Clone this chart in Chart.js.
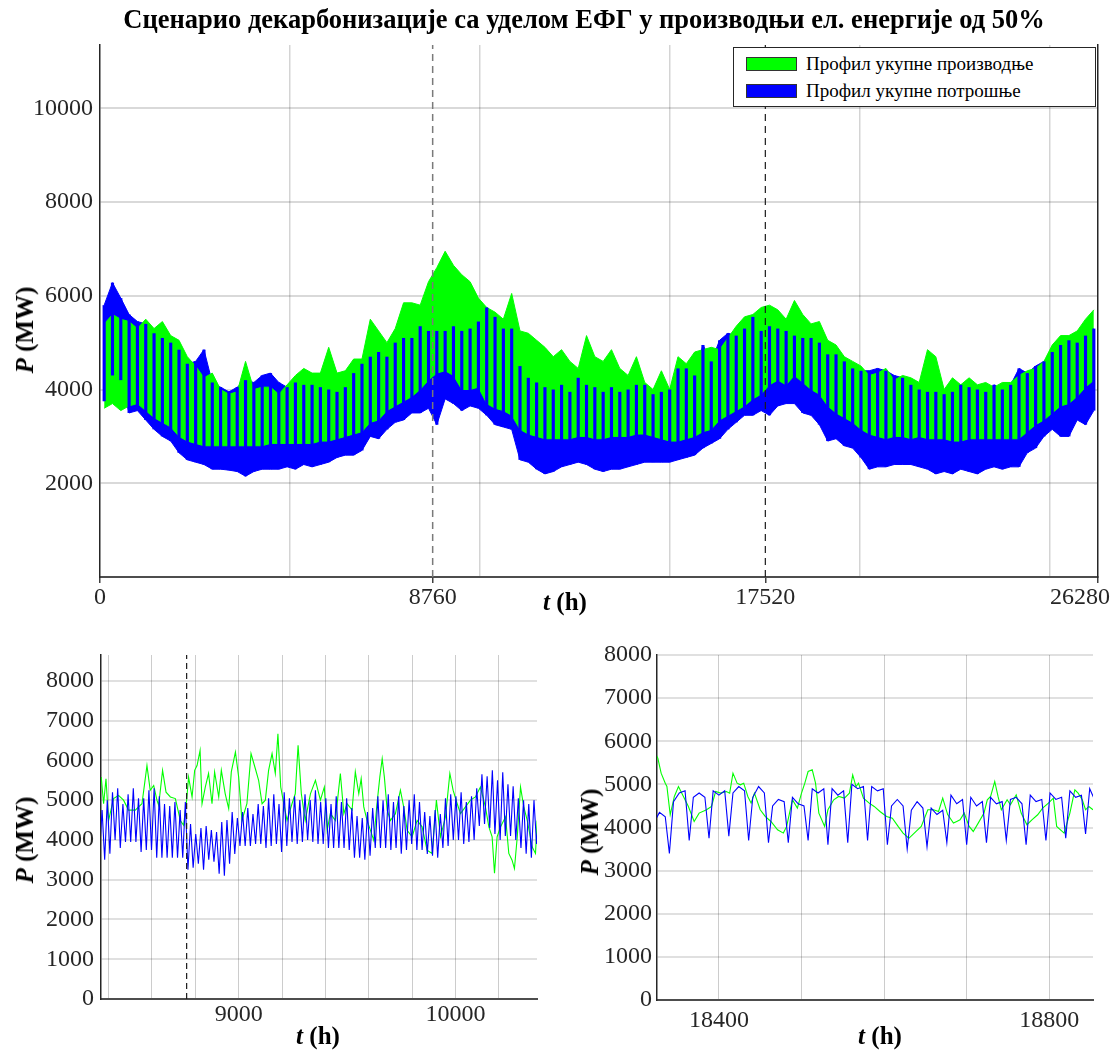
<!DOCTYPE html>
<html lang="sr">
<head>
<meta charset="UTF-8">
<title>Сценарио декарбонизације</title>
<script src="https://cdn.jsdelivr.net/npm/chart.js@4.4.0/dist/chart.umd.min.js"></script>
<style>
  body {
    margin: 0;
    width: 1110px;
    height: 1052px;
    overflow: hidden;
    position: relative;
    background: #ffffff;
    font-family: 'Liberation Serif', 'Times New Roman', serif;
    color: #000;
  }
  canvas { position: absolute; }
  .title {
    position: absolute;
    left: 0; top: 3px;
    width: 1168px;
    text-align: center;
    font-weight: bold;
    font-size: 26.5px;
    line-height: 32px;
    white-space: nowrap;
  }
  .ylab, .xlab {
    position: absolute;
    font-weight: bold;
    font-size: 25px;
    white-space: nowrap;
  }
  .ylab { transform: translate(-50%, -50%) rotate(-90deg); }
  .xlab { transform: translate(-50%, -50%); }
  .legend {
    position: absolute;
    left: 733px; top: 47px;
    width: 363px; height: 60px;
    background: #fff;
    border: 1px solid #262626;
    box-sizing: border-box;
  }
  .legend .sw {
    position: absolute;
    left: 12px;
    width: 51px; height: 14px;
    border: 1px solid #333;
    box-sizing: border-box;
  }
  .legend .tx {
    position: absolute;
    left: 72px;
    font-size: 19px;
    line-height: 20px;
    white-space: nowrap;
  }
</style>
</head>
<body>
<canvas id="top" width="1150" height="632" style="left:0;top:0"></canvas>
<canvas id="left" width="560" height="422" style="left:0;top:630px"></canvas>
<canvas id="right" width="550" height="422" style="left:560px;top:630px"></canvas>

<div class="title">Сценарио декарбонизације са уделом ЕФГ у производњи ел. енергије од 50%</div>
<div class="legend">
  <div class="sw" style="top:9px;background:#00ff00"></div>
  <div class="tx" style="top:6px">Профил укупне производње</div>
  <div class="sw" style="top:36px;background:#0000ff"></div>
  <div class="tx" style="top:33px">Профил укупне потрошње</div>
</div>
<div class="ylab" style="left:25px;top:330px"><i>P</i> (MW)</div>
<div class="xlab" style="left:565px;top:602px"><i>t</i> (h)</div>
<div class="ylab" style="left:25px;top:840px"><i>P</i> (MW)</div>
<div class="xlab" style="left:318px;top:1036px"><i>t</i> (h)</div>
<div class="ylab" style="left:590px;top:832px"><i>P</i> (MW)</div>
<div class="xlab" style="left:880px;top:1036px"><i>t</i> (h)</div>

<script>
// ---- three-year hourly profiles, summarised per 219 h block ----
// consumption: min and max in each block
const blockHours = 219;
const blueLo = [3750,4300,4200,3500,3550,3350,3150,3000,2900,2650,2500,2450,2400,2300,2300,2280,2250,2150,2250,2300,
  2300,2300,2350,2300,2400,2350,2400,2450,2550,2600,2600,2700,3000,2950,3150,3300,3350,3500,3500,3600,
  3250,3800,3700,3550,3650,3600,3450,3250,3200,3150,2500,2450,2300,2200,2250,2350,2400,2450,2400,2300,
  2250,2300,2300,2350,2400,2450,2450,2450,2450,2500,2550,2600,2750,2850,2950,3150,3300,3450,3450,3550,
  3450,3650,3700,3700,3500,3450,3250,2900,2950,2800,2750,2550,2300,2350,2350,2400,2400,2400,2350,2300,
  2200,2250,2200,2300,2250,2200,2300,2350,2300,2350,2350,2650,2750,3000,3150,3000,3000,3350,3250,3550];
const blueHi = [5800,6280,5950,5600,5450,5400,5200,5100,5000,4850,4550,4600,4850,4150,4050,3950,4050,4200,4150,4300,
  4350,4150,4050,4150,4100,4100,4050,4000,3950,4050,4350,4550,4700,4800,4700,5000,5100,5100,5350,5250,
  5250,5250,5350,5250,5300,5450,5750,5550,5300,5300,4500,4250,4150,4050,4000,4100,3950,4250,4100,4050,
  3950,4050,3950,4000,4100,4100,3900,3950,4000,4450,4450,4300,4950,4600,5050,5200,5150,5300,5550,5250,
  5350,5300,5250,5150,5100,5100,5000,4750,4750,4600,4450,4400,4400,4450,4400,4300,4250,4100,4000,3950,
  3950,3900,3950,4100,4050,4000,3950,4100,4000,4100,4450,4350,4500,4600,4800,4950,5050,5000,5150,5300];
// production: lower edge of its dense part and max in each block
const greenLo = [3600,3700,3550,3650,3700,3550,3400,3300,3200,3000,2900,2850,2800,2800,2800,2800,2800,2800,2800,2800,
  2850,2850,2850,2850,2850,2850,2900,2900,2950,3000,3050,3100,3300,3350,3550,3650,3750,3850,4000,4200,
  4350,4400,4300,4000,4000,4050,3700,3600,3550,3450,3150,3050,3000,2950,2950,2950,2950,3000,3000,2950,
  2950,3000,3000,3000,3050,3050,3000,2950,2900,2900,2950,3000,3100,3150,3350,3450,3550,3650,3800,3900,
  4100,4200,4100,4300,4150,4000,3900,3650,3500,3400,3300,3150,3050,3000,2950,3000,3000,2950,3000,2950,
  2950,2950,2900,2900,2950,2950,2950,2950,2950,2950,2950,3100,3250,3350,3500,3650,3700,3850,4050,4200];
const greenHi = [5400,5600,5500,5450,5300,5500,5300,5450,5150,5050,4700,4500,4250,4350,4000,3900,3950,4600,4000,4050,
  4050,3900,4100,4300,4450,4350,4350,4900,4350,4400,4650,4650,5500,5250,5000,5300,5850,5850,5800,6300,
  6600,6950,6650,6450,6300,5950,5750,5650,5500,6050,5250,5200,5050,4900,4700,4850,4600,4450,5150,4700,
  4600,4850,4450,4300,4700,4150,4000,4400,4000,4700,4550,4800,4850,4900,4850,5100,5350,5550,5600,5750,
  5800,5700,5500,5900,5600,5400,5450,5050,4950,4700,4600,4500,4300,4350,4450,4200,4300,4250,4150,4850,
  4700,4000,4250,4100,4250,4100,4150,4050,4150,4150,4300,4400,4450,4600,4950,5150,5150,5250,5500,5700];
const yearMarks = [8760, 17520];

// ---- winter detail, hours 8365-10376 ----
const leftGreenT = [8366,8377,8388,8400,8423,8446,8469,8492,8523,8554,8577,8592,8608,8623,8631,8649,8665,8685,8708,8731,
  8746,8760,8769,8785,8797,8808,8822,8831,8846,8861,8877,8889,8908,8920,8938,8954,8966,8985,9000,9015,
  9038,9057,9077,9092,9108,9123,9138,9154,9169,9181,9194,9208,9223,9246,9261,9274,9289,9307,9331,9354,
  9377,9395,9408,9423,9446,9469,9485,9500,9523,9538,9554,9565,9577,9592,9608,9623,9638,9651,9662,9672,
  9685,9700,9723,9746,9761,9777,9800,9823,9846,9869,9892,9912,9931,9954,9974,9989,10008,10023,10046,10069,
  10092,10115,10138,10154,10169,10180,10192,10208,10231,10246,10261,10272,10285,10300,10315,10331,10354,10369,10377];
const leftGreenP = [5580,4910,5540,4490,5040,5120,5000,4750,4750,4910,5870,5250,5370,5000,4870,5750,5200,5080,5040,4490,
  4370,5000,5580,5080,5750,5870,6250,4910,5330,5670,4910,5710,5080,5750,5160,4790,5710,6210,5580,4490,
  4910,6170,5790,5500,4910,5000,5750,6170,5670,6670,5330,4910,4490,4910,5160,6380,5160,4490,5160,5500,
  5000,5330,4240,4660,4490,5670,4660,4910,4750,5710,5160,5540,4830,4490,4240,3990,4910,5580,6040,5580,
  4750,4490,4660,5250,4830,4240,4080,4490,4330,3740,3660,5000,4080,4580,5670,5250,4910,4660,4830,5000,
  5080,5330,4830,4330,4080,3160,4080,4330,4580,3660,3490,3280,4080,5330,4830,4490,3820,3660,4490];
// consumption sampled every 12 h from 8358 h: night minimum, day maximum, ...
const leftBlueStart = 8358;
const leftBlueP = [3650,4750, 3500,5000, 3650,5200, 4000,5300, 3800,4900, 3950,5150, 3950,5300, 3950,5050, 3700,5050, 3750,5250,
  3750,5300, 3550,5100, 3550,4900, 3550,4850, 3550,4950, 3550,4750, 3550,4950, 3250,4400, 3300,4150, 3400,4300,
  3250,4350, 3500,4250, 3450,4200, 3150,4450, 3100,4500, 3400,4700, 3650,4550, 3850,4700, 3850,4800, 3850,4650,
  3900,4900, 3900,4850, 3800,5050, 3850,5150, 3900,4900, 3700,5200, 3850,5050, 3950,5100, 3900,5000, 3950,5150,
  4000,5000, 3950,5250, 3900,4950, 3900,5050, 3800,4900, 3800,5100, 3800,4950, 3800,5050, 3750,4800, 3550,4600,
  3550,4550, 3500,4700, 3600,4800, 3800,5100, 3800,5000, 3800,5150, 3750,4950, 3800,5100, 3650,4850, 3750,5000,
  3900,5150, 3750,4950, 3750,4700, 3650,4600, 3600,4750, 3550,4650, 3800,5050, 3850,5150, 4000,5100, 4000,5200,
  3900,4950, 3950,5100, 4000,5300, 4350,5650, 4400,5600, 4300,5750, 4150,5500, 4000,5700, 4100,5400, 4100,5350,
  4000,5050, 3800,5000, 3650,4900, 3550,5000, 3900,4650];

// ---- detail in the third year, hours 18325-18853 ----
const rightGreenT = [18324,18326,18330,18335,18337,18341,18346,18351,18357,18363,18370,18376,18385,18391,18396,18402,18409,18413,18417,18422,
  18426,18430,18435,18439,18443,18450,18456,18463,18471,18478,18482,18489,18495,18500,18504,18508,18513,18517,18521,18528,
  18532,18539,18545,18552,18558,18562,18566,18569,18575,18582,18588,18595,18603,18610,18617,18623,18630,18645,18653,18660,
  18666,18671,18677,18684,18688,18692,18697,18703,18708,18714,18721,18725,18729,18734,18738,18742,18749,18753,18760,18766,
  18773,18779,18786,18792,18799,18805,18809,18818,18825,18831,18835,18840,18844,18848,18853];
const rightGreenP = [5684,5607,5260,5028,4950,4295,4720,4950,4720,4488,4140,4334,4411,4488,4835,4797,4835,4797,5260,5028,
  4990,5028,4720,4565,4797,4411,4257,4140,3947,3870,4025,4642,4450,4797,5028,5298,5337,5028,4334,4025,
  4411,4642,4720,4681,4797,5221,4950,5028,4681,4565,4488,4372,4257,4218,4025,3870,3750,4025,4411,4411,
  4372,4681,4300,4102,4140,4179,4334,4025,3909,4102,4334,4642,4720,5067,4720,4411,4642,4526,4758,4334,
  4064,4179,4295,4450,4565,4681,4025,3870,4334,4874,4797,4642,4411,4488,4411];
// one row per day: night minimum, then three points of the day plateau
const rightBlueFirstDay = 18316;
const rightBlueHours = [0, 5, 12, 19];
const rightBlueDays = [
  [3900,4100,4350,4250], [3400,4600,4800,4850], [3700,4700,4800,4700], [3750,4850,4750,4850],
  [3800,4800,4950,4850], [3700,4700,4950,4800], [3650,4500,4650,4600], [3650,4700,4550,4500],
  [3700,4900,4800,4900], [3600,4900,4750,4850], [3650,5000,4900,4950], [3700,4950,4850,4900],
  [3600,4500,4650,4500], [3500,4400,4600,4450], [3550,4450,4300,4400], [3650,4750,4550,4650],
  [3600,4700,4500,4600], [3650,4700,4550,4600], [3700,4650,4700,4550], [3600,4750,4600,4650],
  [3700,4800,4650,4700], [3750,4850,4700,4750], [3850,4900,4600,4700], [3800]];

// ---- shared look ----
Chart.defaults.font.family = "'Liberation Serif', 'Times New Roman', serif";
Chart.defaults.color = '#262626';
Chart.defaults.animation = false;
Chart.defaults.events = [];
Chart.defaults.plugins.legend.display = false;
Chart.defaults.plugins.tooltip.enabled = false;

const GREEN = '#00ff00';
const BLUE = '#0000ff';
const tickFont = { size: 24 };

const fixWidth = w => s => { s.width = w; };
const fixHeight = h => s => { s.height = h; };
const useTicks = vals => s => { s.ticks = vals.map(v => ({ value: v })); };
const range = (a, b, step) => { const r = []; for (let v = a; v <= b; v += step) r.push(v); return r; };
const pairs = (xs, ys) => xs.map((x, i) => ({ x, y: ys[i] }));
const vline = (x, y1, color, width, dash) => ({
  data: [{ x, y: 0 }, { x, y: y1 }], borderColor: color, borderWidth: width,
  borderDash: dash, pointRadius: 0, order: 0
});

// ---- top: whole three years ----
// consumption band underneath, production band over it, and thin consumption
// strokes per block on top so both profiles show where they overlap
const topMax = 11350;
const centers = blueLo.map((_, i) => blockHours * (i + 0.5));
const bandEdge = (ys, color, order, fill) => ({
  data: pairs(centers, ys), borderColor: color, backgroundColor: color,
  borderWidth: 1, pointRadius: 0, fill, order
});
const strokes = (lo, hi) => lo.map((v, i) => ({ x: centers[i], y: [v, hi[i]] }));
// last label sits a little inside the figure edge
const topLabel = v => v === 26280 ? '26280\u2002\u2002\u2002' : (v % 8760 === 0 ? String(v) : '');

new Chart(document.getElementById('top'), {
  type: 'line',
  data: {
    datasets: [
      vline(yearMarks[0], topMax, '#7a7a7a', 1.5, [7, 5]),
      vline(yearMarks[1], topMax, '#1a1a1a', 1.2, [7, 5]),
      { type: 'bar', data: strokes(blueLo, blueHi), backgroundColor: BLUE, grouped: false,
        barPercentage: 0.38, categoryPercentage: 1, order: 1 },
      bandEdge(greenHi, GREEN, 2, '+1'),
      bandEdge(greenLo, GREEN, 2, false),
      bandEdge(blueHi, BLUE, 3, '+1'),
      bandEdge(blueLo, BLUE, 3, false)
    ]
  },
  options: {
    responsive: false,
    layout: { padding: { left: 0, top: 45, right: 52, bottom: 0 } },
    elements: { line: { tension: 0 } },
    scales: {
      x: {
        type: 'linear', min: 0, max: 26280, offset: false,
        afterBuildTicks: useTicks([0, 5000, 8760, 10000, 15000, 17520, 20000, 25000, 26280]),
        afterFit: fixHeight(55),
        grid: {
          offset: false, lineWidth: 1.5, tickLength: 6,
          color: c => (c.tick && c.tick.value > 0 && c.tick.value % 5000 === 0) ? 'rgba(0,0,0,0.17)' : 'rgba(0,0,0,0)',
          tickColor: c => (c.tick && c.tick.value % 8760 === 0) ? '#404040' : 'rgba(0,0,0,0)'
        },
        border: { color: '#4d4d4d', width: 2 },
        ticks: { font: tickFont, padding: 0, maxRotation: 0, autoSkip: false, callback: topLabel }
      },
      y: {
        min: 0, max: topMax,
        afterBuildTicks: useTicks(range(0, 10000, 2000)),
        afterFit: fixWidth(100),
        grid: { drawTicks: false, lineWidth: 2,
          color: c => c.tick && c.tick.value > 0 ? 'rgba(0,0,0,0.15)' : 'rgba(0,0,0,0)' },
        border: { color: '#262626', width: 1.5 },
        ticks: { font: tickFont, padding: 7, callback: v => v === 0 ? '' : String(v) }
      },
      yr: {
        position: 'right', min: 0, max: topMax,
        afterFit: fixWidth(0),
        grid: { display: false, drawTicks: false },
        ticks: { display: false },
        border: { color: '#262626', width: 1.5 }
      }
    }
  }
});

// ---- bottom charts ----
function detailChart(id, opt) {
  return new Chart(document.getElementById(id), {
    type: 'line',
    data: { datasets: opt.datasets },
    options: {
      responsive: false,
      layout: { padding: { left: 0, top: 25, right: opt.padRight, bottom: 0 } },
      elements: { point: { radius: 0 }, line: { tension: 0 } },
      scales: {
        x: {
          type: 'linear', min: opt.xMin, max: opt.xMax,
          afterBuildTicks: useTicks(opt.xGrid),
          afterFit: fixHeight(opt.xHeight),
          grid: { color: 'rgba(0,0,0,0.2)', lineWidth: 1, drawTicks: false },
          border: { color: '#4d4d4d', width: 2 },
          ticks: { font: tickFont, padding: opt.xPad, maxRotation: 0, autoSkip: false,
            callback: v => opt.xLabels.includes(v) ? String(v) : '' }
        },
        y: {
          min: 0, max: opt.yMax,
          afterBuildTicks: useTicks(range(0, 8000, 1000)),
          afterFit: fixWidth(opt.yWidth),
          grid: { color: c => c.tick && c.tick.value > 0 ? 'rgba(0,0,0,0.12)' : 'rgba(0,0,0,0)',
            lineWidth: 2, drawTicks: false },
          border: { color: '#262626', width: 1.5 },
          ticks: { font: tickFont, padding: opt.yPad, callback: v => String(v) }
        }
      }
    }
  });
}

const leftBlue = leftBlueP.map((y, i) => ({ x: leftBlueStart + 12 * i, y }));
detailChart('left', {
  xMin: 8365, xMax: 10376, yMax: 8650,
  xGrid: range(8400, 10200, 200), xLabels: [9000, 10000],
  padRight: 23, xHeight: 53, yWidth: 101, yPad: 7, xPad: 1,
  datasets: [
    vline(yearMarks[0], 8650, '#1a1a1a', 1.2, [6, 4]),
    { data: leftBlue, borderColor: BLUE, borderWidth: 1.1, order: 1 },
    { data: pairs(leftGreenT, leftGreenP), borderColor: GREEN, borderWidth: 1.1, order: 2 }
  ]
});

const rightBlue = [];
rightBlueDays.forEach((day, n) => {
  day.forEach((y, j) => rightBlue.push({ x: rightBlueFirstDay + 24 * n + rightBlueHours[j], y }));
});
detailChart('right', {
  xMin: 18325, xMax: 18853, yMax: 8000,
  xGrid: range(18400, 18800, 100), xLabels: [18400, 18800],
  padRight: 17, xHeight: 52, yWidth: 97, yPad: 5, xPad: 6,
  datasets: [
    { data: rightBlue, borderColor: BLUE, borderWidth: 1.1, order: 1 },
    { data: pairs(rightGreenT, rightGreenP), borderColor: GREEN, borderWidth: 1.1, order: 2 }
  ]
});
</script>
</body>
</html>
